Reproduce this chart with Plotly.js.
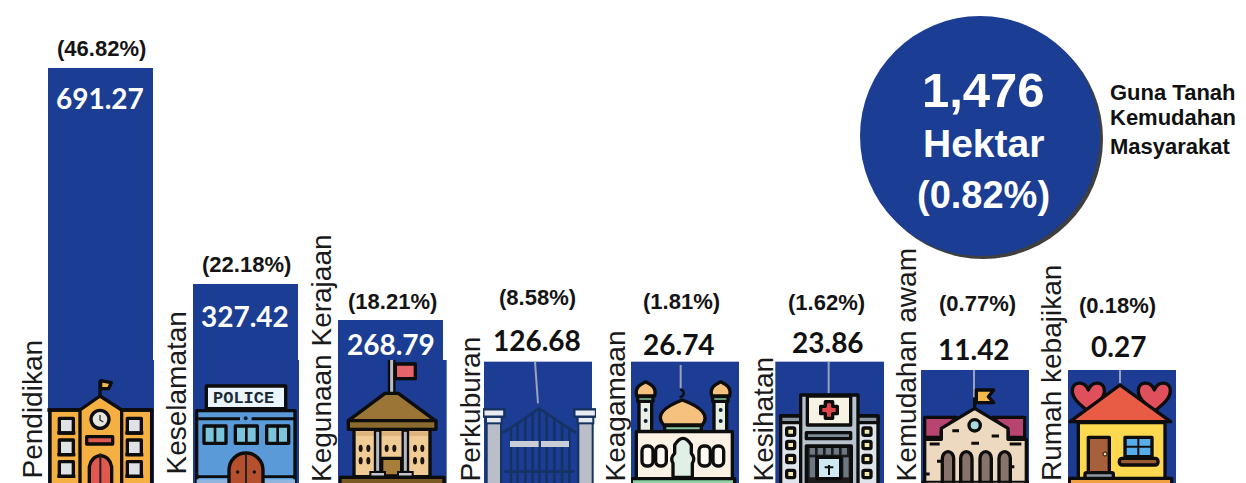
<!DOCTYPE html>
<html>
<head>
<meta charset="utf-8">
<script src="https://cdn.plot.ly/plotly-3.0.1.min.js"></script>
<style>html,body{margin:0;padding:0;background:#fff;overflow:hidden}#chart{width:1246px;height:483px}</style>
</head>
<body>
<div id="chart"></div>
<script>
// ---------- data ----------
const categories = ["Pendidikan","Keselamatan","Kegunaan Kerajaan","Perkuburan","Keagamaan","Kesihatan","Kemudahan awam","Rumah kebajikan"];
const hectares = [691.27,327.42,268.79,126.68,26.74,23.86,11.42,0.27];
const shares = [46.82,22.18,18.21,8.58,1.81,1.62,0.77,0.18];
// pictorial bar heights as drawn in the infographic (not proportional for the small values)
const drawnHeights = [415,199,163,121,121,121,113,113];

// ---------- layout constants ----------
const W = 1246, H = 483, STEP = 146, X0 = 100.5;
const BLUE = "#1b3d93";
const barLeft = [48,193,338,484,631,776,921,1068];
const barWidth = [105,105,105,108,108,108,108,108];
const valueX = [100,245,391,537,679,828,974,1118];
const valueY = [98,316,344,340,344,342,349,346];
const valueColor = ["#fff","#fff","#fff","#111","#111","#111","#111","#111"];
const pctX = [101,246,392,537,681,826,977,1117];
const pctY = [48,264,301,297,301,302,303,305];
const catX = [32,176,321,470,615,763,906,1051];
const catBottom = [481,477,484,484,484,484,484,483];
const iconLeft = [40,185,330,476,623,768,913,1060];

// ---------- icons, drawn in a 375x369 box ----------
const K = 'stroke="#0b0b0b" stroke-width="10" stroke-linejoin="round"';
const r = (x0,y0,x1,y1,f,extra) => `<rect x="${x0}" y="${y0}" width="${x1-x0}" height="${y1-y0}" fill="${f}" ${extra===undefined?K:extra}/>`;
const bg = (x0,y0,x1) => `<rect x="${x0}" y="${y0}" width="${x1-x0}" height="${369-y0}" fill="${BLUE}"/>`;
const hang = (x0,y0,x1,y1) => `<line x1="${x0}" y1="${y0}" x2="${x1}" y2="${y1}" stroke="#97a3bf" stroke-width="6"/>`;

function school(){
  let s = bg(24,0,342);
  s += r(30,150,335,380,"#f4b043");
  s += `<line x1="22" y1="150" x2="340" y2="150" stroke="#0b0b0b" stroke-width="10"/>`;
  s += `<line x1="180" y1="110" x2="180" y2="62" ${K}/>`;
  s += `<path d="M182 62 L214 68 L206 86 L182 86Z" fill="#f4b94f" ${K}/>`;
  s += `<path d="M120 150 L180 108 L245 150 V380 H120Z" fill="#f4b043" ${K}/>`;
  s += `<circle cx="180" cy="178" r="27" fill="#e6e6e0" ${K}/><path d="M180 165V180L190 186" stroke="#333" stroke-width="4" fill="none"/>`;
  s += r(140,230,218,252,"#e0584f");
  s += `<path d="M148 380 V320 A34 40 0 0 1 215 320 V380Z" fill="#e0584f" ${K}/><line x1="181" y1="280" x2="181" y2="369" stroke="#222" stroke-width="6"/>`;
  for (const x of [58,262]) for (const y of [175,240,305]) {
    s += r(x,y,x+42,y+44,"#dfe2e6");
    s += `<line x1="${x-6}" y1="${y+44}" x2="${x+48}" y2="${y+44}" stroke="#0b0b0b" stroke-width="10"/>`;
  }
  return s;
}
function police(){
  let s = bg(26,0,342);
  s += r(35,152,330,380,"#5a9ad8");
  s += r(64,78,302,146,"#eaf6fb");
  s += `<path d="M35 176H165M200 176H330" stroke="#0b0b0b" stroke-width="9"/><circle cx="182" cy="175" r="6" fill="#123"/>`;
  for (const x of [57,151,245]) {
    s += r(x,198,x+66,250,"#7cc4dc");
    s += `<line x1="${x+33}" y1="198" x2="${x+33}" y2="250" stroke="#0b0b0b" stroke-width="8"/>`;
  }
  s += `<rect x="35" y="358" width="295" height="14" fill="#8fb6df"/><line x1="35" y1="350" x2="330" y2="350" stroke="#0b0b0b" stroke-width="8"/>`;
  s += `<path d="M132 380 V330 A50 50 0 0 1 234 330 V380Z" fill="#b5502f" ${K}/><line x1="183" y1="282" x2="183" y2="369" stroke="#222" stroke-width="6"/>`;
  s += `<circle cx="158" cy="336" r="5" fill="#111"/><circle cx="208" cy="336" r="5" fill="#111"/>`;
  return s;
}
function government(){
  let s = bg(27,0,350);
  s += `<rect x="177" y="-5" width="16" height="105" fill="#bcbfc7" stroke="#0b0b0b" stroke-width="7"/>`;
  s += r(196,12,256,56,"#e5646a");
  s += r(72,205,300,350,"#f0cb96");
  s += `<rect x="78" y="214" width="216" height="14" fill="#e0b57d"/>`;
  s += `<path d="M55 182 L165 100 H205 L316 182Z" fill="#9b7535" ${K}/>`;
  s += r(55,182,318,208,"#8a6a2e");
  for (const [x,y] of [[92,265],[115,265],[92,302],[115,302],[170,265],[193,265],[255,265],[277,265],[255,302],[277,302]])
    s += `<ellipse cx="${x}" cy="${y}" rx="6" ry="11" fill="#1a1410"/>`;
  s += r(155,295,215,348,"#a87e3a");
  for (const x of [135,218]) {
    s += r(x,212,x+16,336,"#b5b9c2","stroke=\"#0b0b0b\" stroke-width=\"7\"");
    s += r(x-14,336,x+30,350,"#c3c6cd","stroke=\"#0b0b0b\" stroke-width=\"6\"");
  }
  s += r(30,352,342,380,"#7a5a24");
  return s;
}
function gate(){
  const NAVY = "#13305f";
  let s = bg(24,5,348);
  s += hang(177,5,186,130);
  let v = "";
  for (const [x,y] of [[105,205],[125,190],[148,172],[170,157],[190,145],[212,157],[235,172],[258,190],[280,205]])
    v += `M${x} ${y}V369`;
  s += `<path d="${v}M80 218L125 190L190 145L255 190L300 218M85 335H295" stroke="${NAVY}" stroke-width="7" fill="none"/>`;
  s += r(102,243,188,261,"#c8cdd7",`stroke="none"`);
  s += r(195,243,279,261,"#c8cdd7",`stroke="none"`);
  for (const [a,b,c,d] of [[22,85,32,75],[295,360,307,350]]) {
    s += r(c,188,d,380,"#b9bec9",`stroke="${NAVY}" stroke-width="6"`);
    s += r(c-2,170,d+2,190,"#e6e9ee",`stroke="${NAVY}" stroke-width="6"`);
    s += r(a,148,b,170,"#e9ecf1",`stroke="${NAVY}" stroke-width="7"`);
  }
  return s;
}
function mosque(){
  let s = bg(24,5,348);
  s += hang(173,15,173,85);
  s += `<path d="M172 88 C186 92 186 108 170 112" stroke="#0b0b0b" stroke-width="7" fill="none"/>`;
  for (const c of [68,293]) {
    s += r(c-20,122,c+18,214,"#e8f0e6");
    s += `<circle cx="${c}" cy="150" r="6" fill="#123"/><circle cx="${c}" cy="183" r="6" fill="#123"/>`;
    s += r(c-24,110,c+22,124,"#8cc8a0");
    s += `<path d="M${c-27} 108 C${c-34} 82 ${c-14} 72 ${c} 65 C${c+14} 72 ${c+34} 82 ${c+27} 108Z" fill="#f4c27e" ${K}/>`;
  }
  s += `<path d="M122 195 C95 165 125 140 178 120 C232 140 262 165 238 195Z" fill="#f4c27e" ${K}/>`;
  s += r(125,197,235,213,"#8cc8a0");
  s += r(40,215,328,356,"#fbf1e4");
  for (const [a,b] of [[57,90],[98,130],[228,262],[270,302]])
    s += `<rect x="${a}" y="258" width="${b-a}" height="60" rx="14" fill="#fffaf2" ${K}/>`;
  s += `<path d="M150 352 V310 Q140 295 155 280 V255 Q180 215 205 255 V280 Q218 295 208 310 V352Z" fill="#e0f0e6" ${K}/>`;
  s += r(25,356,335,380,"#8fd0a6");
  return s;
}
function hospital(){
  let s = bg(22,5,348);
  s += hang(182,5,182,100);
  for (const [a,b,w] of [[38,100,68],[268,330,297]]) {
    s += r(a,168,b,380,"#dfe5ea");
    s += r(a,168,b,188,"#8a96a2");
    for (const y of [215,255,297,342]) s += `<rect x="${w-12}" y="${y-11}" width="24" height="22" rx="4" fill="#f4e9a8" ${K}/>`;
  }
  s += r(98,105,270,380,"#b7c3ce");
  s += r(118,108,248,195,"#f6f2e4");
  s += `<path d="M172 125H194V139H208V161H194V175H172V161H158V139H172Z" fill="#e0444a" ${K}/>`;
  s += r(115,218,248,236,"#7f8b98");
  s += r(115,258,250,380,"#1a1a1a");
  for (let x=125;x<240;x+=24) s += `<rect x="${x}" y="264" width="16" height="20" fill="#6d7882"/>`;
  s += r(148,292,218,356,"#cfe9f2");
  s += `<path d="M183 315V345M170 322H196" stroke="#111" stroke-width="6"/>`;
  s += `<rect x="125" y="292" width="16" height="60" fill="#6d7882"/><rect x="226" y="292" width="16" height="60" fill="#6d7882"/>`;
  return s;
}
function civic(){
  let s = bg(26,30,348);
  s += hang(183,30,183,135);
  s += `<path d="M35 172H130L85 215V232H35ZM335 172H240L285 215V232H335Z" fill="#b8446f" ${K}/>`;
  s += `<path d="M35 238H85V205L185 145L285 205V238H340V380H35Z" fill="#edd9c0" ${K}/>`;
  s += `<line x1="185" y1="145" x2="185" y2="112" ${K}/>`;
  s += `<path d="M190 90H242L226 110L242 128H190Z" fill="#f5b84c" ${K}/>`;
  s += `<circle cx="185" cy="196" r="17" fill="#a8dbe0" ${K}/>`;
  let d = "M118 212H138M236 228H258M175 250H198M50 252H80M290 252H325M72 304H88M288 320H304M38 342H50";
  s += `<path d="${d}" stroke="#0b0b0b" stroke-width="9" fill="none"/>`;
  for (const c of [105,160,218,275]) s += `<path d="M${c-17} 380V295A17 20 0 0 1 ${c+17} 295V380Z" fill="#867369" ${K}/>`;
  s += `<line x1="26" y1="365" x2="348" y2="365" stroke="#0b0b0b" stroke-width="6"/>`;
  return s;
}
function heart(x,y){
  return `<path d="M${x} ${y+42} C${x-30} ${y+18} ${x-48} ${y+2} ${x-48} ${y-20} C${x-48} ${y-48} ${x-12} ${y-52} ${x} ${y-22} C${x+12} ${y-52} ${x+48} ${y-48} ${x+48} ${y-20} C${x+48} ${y+2} ${x+30} ${y+18} ${x} ${y+42}Z" fill="#e0505c" ${K}/>`;
}
function house(){
  let s = bg(24,30,348);
  s += hang(180,30,180,70);
  s += heart(85,112) + heart(283,112);
  s += r(55,188,315,380,"#fdd94f");
  s += `<path d="M180 75 L332 185 H30Z" fill="#e85c45" ${K}/>`;
  s += r(85,232,148,342,"#a8613a");
  s += `<circle cx="135" cy="282" r="6" fill="#f0dca0" stroke="#111" stroke-width="3"/>`;
  s += `<rect x="75" y="338" width="85" height="18" rx="5" fill="#8f9aa5" ${K}/>`;
  s += r(195,232,276,290,"#55aee8");
  s += `<path d="M235 232V290M195 260H276" stroke="#111" stroke-width="6"/>`;
  s += `<rect x="178" y="295" width="116" height="20" rx="8" fill="#9a5a35" ${K}/>`;
  s += r(28,355,335,380,"#f0a040");
  return s;
}
const iconFns = [school,police,government,gate,mosque,hospital,civic,house];
const svgUri = body => "data:image/svg+xml;charset=utf-8," + encodeURIComponent(
  `<svg xmlns="http://www.w3.org/2000/svg" width="375" height="369" viewBox="0 0 375 369"><defs><filter id="b" x="0" y="0" width="1" height="1"><feGaussianBlur stdDeviation="1.4"/></filter><clipPath id="c"><rect width="375" height="369"/></clipPath></defs><g clip-path="url(#c)"><g filter="url(#b)">${body}</g></g></svg>`);

const images = iconFns.map((f,i)=>({
  source: svgUri(f()), xref:"paper", yref:"paper", xanchor:"left", yanchor:"top",
  x: iconLeft[i]/W, y: (H-360)/H, sizex:125/W, sizey:123/H, sizing:"stretch", layer:"above"
}));

// ---------- annotations ----------
const centre = i => X0 + STEP*i;
const anns = [];
categories.forEach((c,i)=>{
  anns.push({x:c,xref:"x",xshift:catX[i]-centre(i),y:0,yshift:H-catBottom[i],yref:"y",yanchor:"bottom",xanchor:"center",
    text:c,textangle:-90,showarrow:false,font:{family:"Liberation Sans",size:28,color:"#1a1a1a"}});
  anns.push({x:c,xref:"x",xshift:valueX[i]-centre(i),y:H-valueY[i],yref:"y",yanchor:"middle",xanchor:"center",
    text:hectares[i].toFixed(2),showarrow:false,font:{family:"Lato",size:28,weight:700,color:valueColor[i]}});
  anns.push({x:c,xref:"x",xshift:pctX[i]-centre(i),y:H-pctY[i],yref:"y",yanchor:"middle",xanchor:"center",
    text:"("+shares[i].toFixed(2)+"%)",showarrow:false,font:{family:"Liberation Sans",size:22,weight:700,color:"#141414"}});
});
const pap = (px,py,text,size,color,xa) => ({x:px/W,y:1-py/H,xref:"paper",yref:"paper",xanchor:xa||"center",yanchor:"middle",text,showarrow:false,
  font:{family:"Liberation Sans",size,weight:700,color}});
anns.push(pap(983,90,"1,476",49,"#fff"));
anns.push(pap(983,143,"Hektar",39,"#fff"));
anns.push(pap(983,195,"(0.82%)",38,"#fff"));
anns.push(pap(1108,92,"Guna Tanah",22,"#111","left"));
anns.push(pap(1108,118,"Kemudahan",22,"#111","left"));
anns.push(pap(1108,146,"Masyarakat",22,"#111","left"));
anns.push({x:243/W,y:1-398/H,xref:"paper",yref:"paper",text:"POLICE",showarrow:false,xanchor:"center",yanchor:"middle",
  font:{family:"Liberation Mono",size:17,weight:700,color:"#1c2a33"}});

const circle = (cx,cy,rad,fill)=>({type:"circle",xref:"paper",yref:"paper",x0:(cx-rad)/W,x1:(cx+rad)/W,y0:1-(cy+rad)/H,y1:1-(cy-rad)/H,
  fillcolor:fill,line:{width:0},layer:"above"});

Plotly.newPlot("chart",[{
  type:"bar", x:categories, y:drawnHeights,
  width:barWidth.map(w=>w/STEP),
  offset:barLeft.map((l,i)=>(l-centre(i))/STEP),
  marker:{color:BLUE,line:{width:0}},
  customdata:hectares, hoverinfo:"skip"
}],{
  width:W,height:H,margin:{l:0,r:0,t:0,b:0,pad:0},
  paper_bgcolor:"#fff",plot_bgcolor:"#fff",showlegend:false,
  xaxis:{type:"category",categoryorder:"array",categoryarray:categories,range:[-X0/STEP,(W-X0)/STEP],visible:false,fixedrange:true},
  yaxis:{range:[0,H],visible:false,fixedrange:true},
  images,annotations:anns,
  shapes:[circle(983,139,120,"#3f3f3f"),circle(980,136,120,BLUE)]
},{displayModeBar:false,staticPlot:true});
</script>
</body>
</html>
